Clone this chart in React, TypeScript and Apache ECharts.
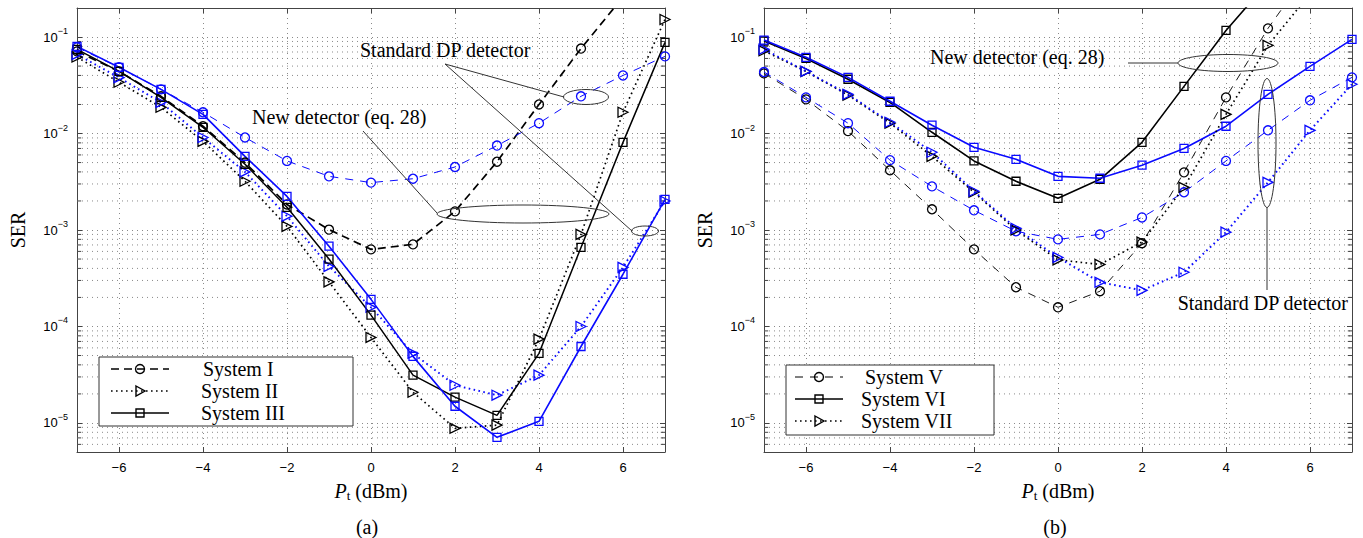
import React, { useEffect, useRef } from "react";
import * as echarts from "echarts";

// ---------------- data ----------------
const P = [-7, -6, -5, -4, -3, -2, -1, 0, 1, 2, 3, 4, 5, 6, 7];

// (a) panel
const aSysIBlack = [0.071, 0.044, 0.0243, 0.0119, 0.005, 0.00184, 0.00101, 0.00063, 0.00071, 0.00156, 0.0051, 0.02, 0.076, 0.26, 0.8];
const aSysIBlue = [0.078, 0.0486, 0.0287, 0.0166, 0.0091, 0.0052, 0.0036, 0.0031, 0.0034, 0.0045, 0.0075, 0.0128, 0.0243, 0.04, 0.063];
const aSysIIBlack = [0.062, 0.034, 0.0187, 0.0083, 0.0032, 0.00109, 0.00029, 0.000077, 0.0000208, 0.0000088, 0.0000095, 0.000074, 0.0009, 0.0166, 0.152];
const aSysIIBlue = [0.066, 0.038, 0.021, 0.0091, 0.004, 0.00139, 0.00042, 0.000158, 0.0000527, 0.0000246, 0.0000194, 0.0000313, 0.0001, 0.00041, 0.002];
const aSysIIIBlack = [0.0746, 0.0441, 0.0237, 0.0116, 0.0048, 0.00172, 0.0005, 0.000131, 0.0000313, 0.0000185, 0.000012, 0.0000527, 0.00066, 0.0081, 0.088];
const aSysIIIBlue = [0.08, 0.0486, 0.0287, 0.0158, 0.0058, 0.00223, 0.00068, 0.000191, 0.000049, 0.0000149, 0.0000071, 0.0000104, 0.000062, 0.000348, 0.00208];

// (b) panel
const bSysVBlack = [0.042, 0.0226, 0.0106, 0.00416, 0.00164, 0.00063, 0.000255, 0.000158, 0.000232, 0.00073, 0.00396, 0.0237, 0.123, 0.5, 2];
const bSysVBlue = [0.0434, 0.0237, 0.0128, 0.0053, 0.00283, 0.0016, 0.00097, 0.0008, 0.0009, 0.00135, 0.00246, 0.0052, 0.0108, 0.0221, 0.0382];
const bSysVIBlack = [0.091, 0.06, 0.0365, 0.021, 0.0103, 0.0052, 0.0032, 0.00213, 0.00335, 0.0081, 0.0308, 0.117, 0.37, 1.3, 4];
const bSysVIBlue = [0.093, 0.0617, 0.0382, 0.0216, 0.0122, 0.0072, 0.0054, 0.0036, 0.00344, 0.0047, 0.007, 0.0119, 0.0255, 0.0497, 0.0947];
const bSysVIIBlack = [0.072, 0.044, 0.025, 0.0128, 0.0058, 0.00246, 0.001, 0.00049, 0.00044, 0.00075, 0.00277, 0.0158, 0.082, 0.28, 1.5];
const bSysVIIBlue = [0.0746, 0.0441, 0.0255, 0.0131, 0.0064, 0.00252, 0.00104, 0.00052, 0.000287, 0.000237, 0.000365, 0.00095, 0.00312, 0.0108, 0.0324];

const legendA = ["System I", "System II", "System III"];
const legendB = ["System V", "System VI", "System VII"];

const Y_MIN = 5e-6;
const Y_MAX = 0.2;
const X_MIN = -7;
const X_MAX = 7;

// ---------------- styling ----------------
const BLACK = "#000000";
const BLUE = "#0a0aff";
const GRIDC = "#8a8a8a";
const AXC = "#444444";
const SERIF = "Liberation Serif";
const SANS = "Liberation Sans";

const DASH_THICK = [8, 5];
const DASH_THIN = [8, 7];
const DOT = [1.6, 3.4];
const MINOR_TICK = 0.1; // minor tick length in x-axis units

// minor grid values (2..9 x 10^n) for the log axis
const minorGrid: number[] = [];
for (let e = -6; e <= -1; e++) {
  for (let k = 2; k <= 9; k++) {
    const v = +(k * Math.pow(10, e)).toPrecision(3);
    if (v > Y_MIN * 1.0001 && v < Y_MAX * 0.9999) minorGrid.push(v);
  }
}

function xAxes(g: number) {
  const common = {
    gridIndex: g,
    type: "value",
    min: X_MIN,
    max: X_MAX,
    splitNumber: 7,
    axisLine: { onZero: false, lineStyle: { color: AXC, width: 1 } },
    axisTick: { inside: true, length: 5, lineStyle: { color: AXC } },
  };
  return [
    {
      ...common,
      position: "bottom",
      axisLabel: {
        margin: 9,
        color: "#000",
        fontSize: 13,
        fontFamily: SANS,
        formatter: (v: number) =>
          Math.abs(v % 2) > 1e-9 ? "" : v < 0 ? "\u2212" + -v : String(v),
      },
      splitLine: { show: true, lineStyle: { type: [1, 4], color: GRIDC, width: 1 } },
      name: "{i|P}{s|t}{u| (dBm)}",
      nameLocation: "middle",
      nameGap: 28,
      nameTextStyle: {
        fontFamily: SERIF,
        fontSize: 20,
        color: "#000",
        rich: {
          i: { fontFamily: SERIF, fontStyle: "italic", fontSize: 20, color: "#000" },
          s: { fontFamily: SERIF, fontSize: 13, color: "#000", padding: [9, 0, 0, 0] },
          u: { fontFamily: SERIF, fontStyle: "normal", fontSize: 20, color: "#000" },
        },
      },
    },
    {
      ...common,
      position: "top",
      axisLabel: { show: false },
      splitLine: { show: false },
    },
  ];
}

function yAxes(g: number) {
  const common = {
    gridIndex: g,
    type: "log",
    logBase: 10,
    min: Y_MIN,
    max: Y_MAX,
    axisLine: { show: true, onZero: false, lineStyle: { color: AXC, width: 1 } },
    axisTick: { show: true, inside: true, length: 5, lineStyle: { color: AXC } },
  };
  return [
    {
      ...common,
      position: "left",
      axisLabel: {
        margin: 9,
        color: "#000",
        fontFamily: SANS,
        fontSize: 13,
        formatter: (v: number) => {
          const l = Math.log10(v);
          const r = Math.round(l);
          if (Math.abs(l - r) > 0.01) return "";
          return "{b|10}{s|" + (r < 0 ? "\u2212" + -r : String(r)) + "}";
        },
        rich: {
          b: { fontFamily: SANS, fontSize: 13, color: "#000" },
          s: { fontFamily: SANS, fontSize: 9, color: "#000", padding: [0, 0, 12, 0] },
        },
      },
      splitLine: { show: true, lineStyle: { type: [1, 4], color: GRIDC, width: 1 } },
      name: "SER",
      nameLocation: "middle",
      nameGap: 49,
      nameRotate: 90,
      nameTextStyle: { fontFamily: SERIF, fontSize: 20, color: "#000" },
    },
    {
      ...common,
      position: "right",
      axisLabel: { show: false },
      splitLine: { show: false },
    },
  ];
}

function series(
  name: string,
  values: number[],
  g: number,
  color: string,
  lineType: any,
  width: number,
  symbol: string,
  size: number,
  rotate = 0
) {
  return {
    type: "line",
    name,
    xAxisIndex: g * 2,
    yAxisIndex: g * 2,
    data: P.map((p, i) => [p, values[i]]),
    symbol,
    symbolSize: size,
    symbolRotate: rotate,
    showAllSymbol: true,
    clip: true,
    silent: true,
    z: 3,
    lineStyle: { color, width, type: lineType },
    itemStyle: { color: "rgba(0,0,0,0)", borderColor: color, borderWidth: 1.3 },
    emphasis: { disabled: true },
  };
}

// minor log grid lines, drawn as one broken line series through the axes' scales
function gridLines(g: number) {
  const data: any[] = [];
  minorGrid.forEach((v) => {
    data.push([X_MIN, v], [X_MAX, v], [0, "-"]);
  });
  return {
    type: "line",
    name: "minor grid " + g,
    xAxisIndex: g * 2,
    yAxisIndex: g * 2,
    data,
    symbol: "none",
    showSymbol: false,
    connectNulls: false,
    clip: true,
    silent: true,
    z: 1,
    lineStyle: { type: [1, 4], color: GRIDC, width: 1 },
    emphasis: { disabled: true },
  };
}

// minor inside ticks on the left and right borders
function minorTicks(g: number) {
  const data: any[] = [];
  minorGrid.forEach((v) => {
    data.push([X_MIN, v], [X_MIN + MINOR_TICK, v], [0, "-"]);
    data.push([X_MAX - MINOR_TICK, v], [X_MAX, v], [0, "-"]);
  });
  return {
    type: "line",
    name: "minor ticks " + g,
    xAxisIndex: g * 2,
    yAxisIndex: g * 2,
    data,
    symbol: "none",
    showSymbol: false,
    connectNulls: false,
    clip: true,
    silent: true,
    z: 2,
    lineStyle: { type: "solid", color: AXC, width: 1 },
    emphasis: { disabled: true },
  };
}

// --------------- decorations (legend boxes, annotations) ---------------
function markerShape(kind: string, cx: number, cy: number) {
  const style = { fill: "rgba(0,0,0,0)", stroke: "#000", lineWidth: 1.4 };
  if (kind === "circle") return { type: "circle", shape: { cx, cy, r: 4.5 }, style, z: 102 };
  if (kind === "rect") return { type: "rect", shape: { x: cx - 4, y: cy - 4, width: 8, height: 8 }, style, z: 102 };
  return {
    type: "polygon",
    shape: { points: [[cx - 4, cy - 5], [cx + 5, cy], [cx - 4, cy + 5]] },
    style,
    z: 102,
  };
}

function legendBox(
  x: number,
  y: number,
  w: number,
  h: number,
  labels: string[],
  rowYs: number[],
  sx0: number,
  sx1: number,
  tx: number[],
  styles: { dash: any; width: number; marker: string }[]
) {
  const els: any[] = [
    { type: "rect", shape: { x, y, width: w, height: h }, style: { fill: "#fff", stroke: "#333", lineWidth: 1 }, z: 100 },
  ];
  labels.forEach((lab, i) => {
    const st = styles[i];
    els.push({
      type: "line",
      shape: { x1: sx0, y1: rowYs[i], x2: sx1, y2: rowYs[i] },
      style: { stroke: "#000", lineWidth: st.width, lineDash: st.dash || null },
      z: 101,
    });
    els.push(markerShape(st.marker, (sx0 + sx1) / 2, rowYs[i]));
    els.push({
      type: "text",
      x: tx[i],
      y: rowYs[i],
      style: { text: lab, fill: "#000", font: "20px '" + SERIF + "'", textVerticalAlign: "middle", textAlign: "left" },
      z: 101,
    });
  });
  return els;
}

const annStyle = { fill: "rgba(0,0,0,0)", stroke: "#333", lineWidth: 1 };
function txt(text: string, x: number, y: number, align = "left") {
  return {
    type: "text",
    x,
    y,
    style: { text, fill: "#000", font: "20px '" + SERIF + "'", textVerticalAlign: "middle", textAlign: align },
    z: 50,
  };
}
function ln(x1: number, y1: number, x2: number, y2: number) {
  return { type: "line", shape: { x1, y1, x2, y2 }, style: { stroke: "#333", lineWidth: 1 }, z: 50 };
}
function ell(cx: number, cy: number, rx: number, ry: number) {
  return { type: "ellipse", shape: { cx, cy, rx, ry }, style: annStyle, z: 50 };
}

export default function App() {
  const ref = useRef<HTMLDivElement>(null);

  useEffect(() => {
    if (!ref.current) return;
    const chart = echarts.init(ref.current, null, { renderer: "svg" });

    const graphic: any[] = [
      // panel (a) annotations
      txt("Standard DP detector", 360, 50),
      ln(445, 64, 564, 97),
      ln(445, 64, 632, 231),
      ell(586, 97, 22.5, 7.5),
      ell(645, 231, 13.5, 5),
      txt("New detector (eq. 28)", 252, 117),
      ln(363, 131, 437, 213),
      ell(523, 214, 86, 9),
      // panel (b) annotations
      txt("New detector (eq. 28)", 930, 57),
      ln(1128, 63, 1178, 63),
      ell(1228, 63, 50, 8.5),
      ell(1267, 143, 9, 64.5),
      ln(1267, 207.5, 1267, 290),
      txt("Standard DP detector", 1348, 303, "right"),
      // captions
      txt("(a)", 367, 527, "center"),
      txt("(b)", 1055, 527, "center"),
      ...legendBox(99, 357, 254, 69, legendA, [369, 391, 413], 111, 169, [203, 201, 201], [
        { dash: DASH_THICK, width: 1.6, marker: "circle" },
        { dash: DOT, width: 1.6, marker: "tri" },
        { dash: null, width: 1.5, marker: "rect" },
      ]),
      ...legendBox(786, 365, 208, 70, legendB, [377, 399, 421], 795, 843, [865, 861, 861], [
        { dash: DASH_THIN, width: 1, marker: "circle" },
        { dash: null, width: 1.6, marker: "rect" },
        { dash: DOT, width: 1.6, marker: "tri" },
      ]),
    ];

    const option: any = {
      animation: false,
      backgroundColor: "#ffffff",
      grid: [
        { left: 77, top: 8, width: 588, height: 444, containLabel: false },
        { left: 764, top: 8, width: 588, height: 444, containLabel: false },
      ],
      xAxis: [...xAxes(0), ...xAxes(1)],
      yAxis: [...yAxes(0), ...yAxes(1)],
      series: [
        gridLines(0),
        gridLines(1),
        minorTicks(0),
        minorTicks(1),
        // (a)
        series("System I", aSysIBlack, 0, BLACK, DASH_THICK, 1.7, "circle", 9),
        series("System I (DP)", aSysIBlue, 0, BLUE, DASH_THIN, 1, "circle", 9),
        series("System II", aSysIIBlack, 0, BLACK, DOT, 1.7, "triangle", 10, -90),
        series("System II (DP)", aSysIIBlue, 0, BLUE, DOT, 1.9, "triangle", 10, -90),
        series("System III", aSysIIIBlack, 0, BLACK, "solid", 1.5, "rect", 8),
        series("System III (DP)", aSysIIIBlue, 0, BLUE, "solid", 1.6, "rect", 8),
        // (b)
        series("System V", bSysVBlack, 1, BLACK, DASH_THIN, 0.9, "circle", 9),
        series("System V (DP)", bSysVBlue, 1, BLUE, DASH_THIN, 1, "circle", 9),
        series("System VI", bSysVIBlack, 1, BLACK, "solid", 1.6, "rect", 8),
        series("System VI (DP)", bSysVIBlue, 1, BLUE, "solid", 1.6, "rect", 8),
        series("System VII", bSysVIIBlack, 1, BLACK, DOT, 1.7, "triangle", 10, -90),
        series("System VII (DP)", bSysVIIBlue, 1, BLUE, DOT, 2, "triangle", 10, -90),
      ],
      graphic,
    };

    chart.setOption(option);
    return () => chart.dispose();
  }, []);

  return (
    <div
      ref={ref}
      style={{ position: "fixed", left: 0, top: 0, width: 1363, height: 538, background: "#fff" }}
    />
  );
}
